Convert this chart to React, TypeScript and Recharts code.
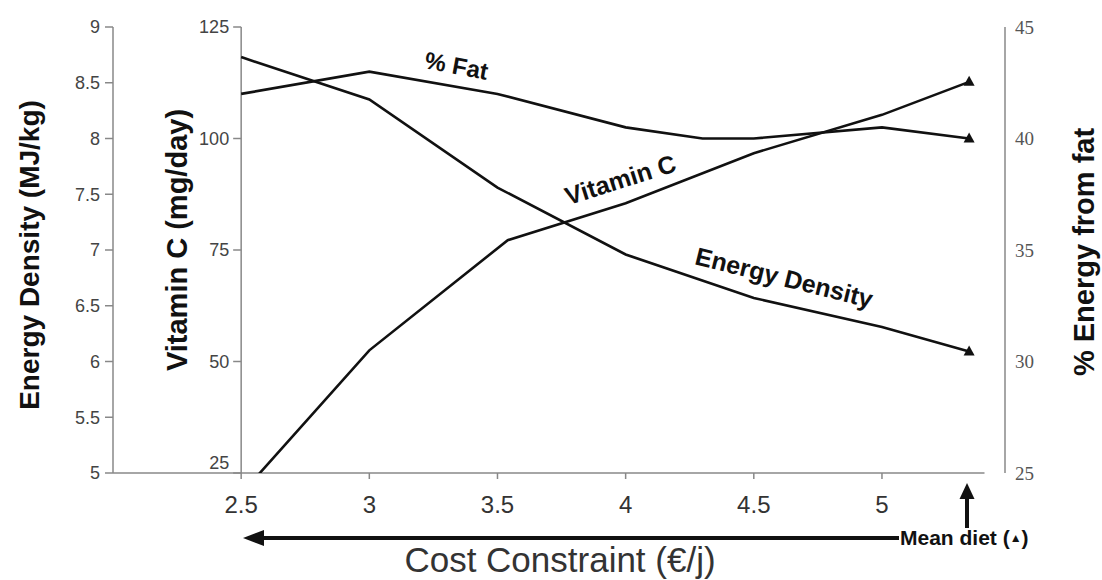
import { LineChart, Line, XAxis, YAxis, ReferenceLine } from 'recharts';

// tick values
const costTicks = [2.5, 3, 3.5, 4, 4.5, 5];
const energyTicks = [5, 5.5, 6, 6.5, 7, 7.5, 8, 8.5, 9];
const vitaminTicks = [25, 50, 75, 100, 125];
const fatTicks = [25, 30, 35, 40, 45];

// series (last point of each = mean diet)
const energyCost = [2.5, 3, 3.5, 4, 4.5, 5, 5.34];
const energyDensity = [8.73, 8.35, 7.56, 6.96, 6.57, 6.31, 6.09];

const vitaminCost = [2.5, 3, 3.54, 4, 4.5, 5, 5.34];
const vitaminC = [20.3, 52.5, 77.2, 85.5, 96.7, 105.3, 112.7];

const fatCost = [2.5, 3, 3.5, 4, 4.3, 4.5, 5, 5.34];
const fatPercent = [42.0, 43.0, 42.0, 40.5, 40.0, 40.0, 40.5, 40.0];

const W = 1102;
const H = 580;
const PLOT_LEFT = 113;
const PLOT_RIGHT = 1005;
const X_MIN = 2;
const X_MAX = 5.48;
const X_AXIS_END = 5.4;
const VIT_AXIS_X = PLOT_LEFT + ((2.5 - X_MIN) * (PLOT_RIGHT - PLOT_LEFT)) / (X_MAX - X_MIN);

const SANS = '"Liberation Sans", Arial, Helvetica, sans-serif';
const SERIF = '"Liberation Serif", "Times New Roman", serif';

const toPoints = (xs: number[], ys: number[]) => xs.map((x, i) => ({ x, v: ys[i] }));

const meanDot = (count: number) => (props: any) => {
  const { cx, cy, index } = props;
  if (index !== count - 1 || cx == null) return <g key={`d${index}`} />;
  return (
    <path
      key={`d${index}`}
      d={`M${cx},${cy - 6} L${cx + 5.5},${cy + 4} L${cx - 5.5},${cy + 4} Z`}
      fill="#111"
    />
  );
};

// vitamin C axis sits inside the plot at cost = 2.5
const VitTick = (props: any) => {
  const { y, payload } = props;
  const dy = payload.value === 25 ? -10 : 0;
  return (
    <g>
      <line x1={VIT_AXIS_X - 8} y1={y} x2={VIT_AXIS_X} y2={y} stroke="#888" strokeWidth={1.5} />
      <text
        x={VIT_AXIS_X - 12}
        y={y + dy}
        textAnchor="end"
        dominantBaseline="central"
        fill="#444"
        fontSize={18}
        fontFamily={SANS}
      >
        {payload.value}
      </text>
    </g>
  );
};

export default function App() {
  return (
    <div style={{ position: 'absolute', left: 0, top: 0, width: W, height: H, background: '#fff' }}>
      <LineChart width={W} height={H} margin={{ top: 27, right: 0, bottom: 0, left: 0 }}>
        <XAxis
          type="number"
          dataKey="x"
          domain={[X_MIN, X_MAX]}
          ticks={costTicks}
          height={107}
          axisLine={false}
          tickLine={{ stroke: '#888', strokeWidth: 1.5 }}
          tickSize={6}
          tickMargin={17}
          tick={{ fill: '#333', fontSize: 24, fontFamily: SANS }}
        />
        <YAxis
          yAxisId="vit"
          orientation="left"
          width={1}
          domain={[25, 125]}
          ticks={vitaminTicks}
          allowDataOverflow
          axisLine={false}
          tickLine={false}
          tickSize={0}
          tickMargin={0}
          tick={VitTick}
        />
        <YAxis
          yAxisId="energy"
          orientation="left"
          width={112}
          domain={[5, 9]}
          ticks={energyTicks}
          axisLine={{ stroke: '#888', strokeWidth: 1.5 }}
          tickLine={{ stroke: '#888', strokeWidth: 1.5 }}
          tickSize={8}
          tickMargin={5}
          tick={{ fill: '#444', fontSize: 18, fontFamily: SANS }}
        />
        <YAxis
          yAxisId="fat"
          orientation="right"
          width={97}
          domain={[25, 45]}
          ticks={fatTicks}
          axisLine={{ stroke: '#888', strokeWidth: 1.5 }}
          tickLine={false}
          tickSize={0}
          tickMargin={10}
          tick={{ fill: '#555', fontSize: 19, fontFamily: SERIF }}
        />
        <ReferenceLine
          yAxisId="energy"
          segment={[{ x: X_MIN, y: 5 }, { x: X_AXIS_END, y: 5 }]}
          stroke="#888"
          strokeWidth={1.5}
        />
        <ReferenceLine yAxisId="vit" x={2.5} stroke="#888" strokeWidth={1.5} />
        <Line
          yAxisId="energy"
          data={toPoints(energyCost, energyDensity)}
          dataKey="v"
          type="linear"
          stroke="#111"
          strokeWidth={2.6}
          dot={meanDot(energyCost.length)}
          isAnimationActive={false}
        />
        <Line
          yAxisId="vit"
          data={toPoints(vitaminCost, vitaminC)}
          dataKey="v"
          type="linear"
          stroke="#111"
          strokeWidth={2.6}
          dot={meanDot(vitaminCost.length)}
          isAnimationActive={false}
        />
        <Line
          yAxisId="fat"
          data={toPoints(fatCost, fatPercent)}
          dataKey="v"
          type="linear"
          stroke="#111"
          strokeWidth={2.6}
          dot={meanDot(fatCost.length)}
          isAnimationActive={false}
        />
      </LineChart>

      <svg
        width={W}
        height={H}
        style={{ position: 'absolute', left: 0, top: 0, pointerEvents: 'none' }}
        fontFamily={SANS}
      >
        {/* axis titles */}
        <text transform="translate(29,255) rotate(-90)" textAnchor="middle" dominantBaseline="central"
          fontWeight="bold" fontSize={28} fill="#111">Energy Density (MJ/kg)</text>
        <text transform="translate(177,240) rotate(-90)" textAnchor="middle" dominantBaseline="central"
          fontWeight="bold" fontSize={29} fill="#111">Vitamin C (mg/day)</text>
        <text transform="translate(1084,252) rotate(-90)" textAnchor="middle" dominantBaseline="central"
          fontWeight="bold" fontSize={29} fill="#111">% Energy from fat</text>
        <text x={560} y={572} textAnchor="middle" fontSize={35} fill="#333">Cost Constraint (€/j)</text>

        {/* series labels */}
        <text transform="translate(455,74) rotate(10.6)" textAnchor="middle" fontWeight="bold" fontSize={24} fill="#111">% Fat</text>
        <text transform="translate(623,188) rotate(-17.5)" textAnchor="middle" fontWeight="bold" fontSize={25} fill="#111">Vitamin C</text>
        <text transform="translate(782,286) rotate(14)" textAnchor="middle" fontWeight="bold" fontSize={25} fill="#111">Energy Density</text>

        {/* cost constraint arrow */}
        <line x1={258} y1={538} x2={899} y2={538} stroke="#111" strokeWidth={4} />
        <path d="M243,538 L264,530 L264,546 Z" fill="#111" />

        {/* mean diet arrow */}
        <line x1={967} y1={496} x2={967} y2={528} stroke="#111" strokeWidth={4} />
        <path d="M967,483 L959.5,499 L974.5,499 Z" fill="#111" />
        <text x={900} y={545} fontWeight="bold" fontSize={21} fill="#111">
          Mean diet (<tspan fontSize={12} dy={-3}>▲</tspan><tspan dy={3}>)</tspan>
        </text>
      </svg>
    </div>
  );
}
